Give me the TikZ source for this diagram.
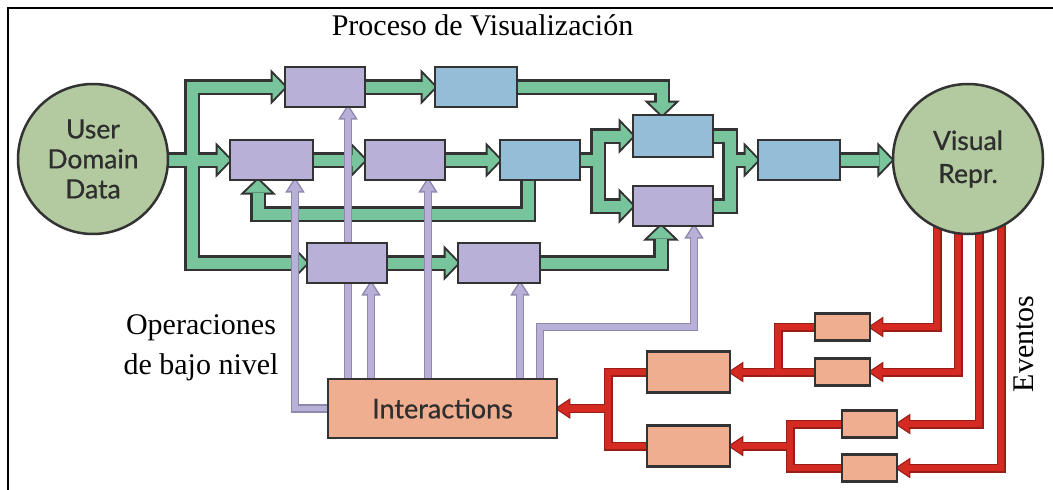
\documentclass[tikz,border=0pt]{standalone}
\usepackage{fontspec}
\setmainfont{Liberation Serif}
\newfontfamily\lbl[FakeBold=0.6]{Lato}
\usetikzlibrary{calc}
\pgfdeclarelayer{pipes}
\pgfsetlayers{pipes,main}

\definecolor{dk}{HTML}{333333}
\definecolor{gr}{HTML}{78C49C}
\definecolor{pu}{HTML}{B8B0D6}
\definecolor{pdk}{HTML}{8E88AE}
\definecolor{bl}{HTML}{94BDD7}
\definecolor{sg}{HTML}{B3C9A0}
\definecolor{sa}{HTML}{F0AE90}
\definecolor{rd}{HTML}{D42A22}
\definecolor{rdk}{HTML}{9A1E18}
\definecolor{txt}{HTML}{2E2E2E}

% arrowheads: #1 style, #2 apex, #3 length, #4 half width
\newcommand\hR[4]{\path[#1] (#2) -- ++(-#3,-#4) -- ++(0,2*#4) -- cycle;}
\newcommand\hL[4]{\path[#1] (#2) -- ++(#3,-#4) -- ++(0,2*#4) -- cycle;}
\newcommand\hU[4]{\path[#1] (#2) -- ++(-#4,#3) -- ++(2*#4,0) -- cycle;}
\newcommand\hD[4]{\path[#1] (#2) -- ++(-#4,-#3) -- ++(2*#4,0) -- cycle;}

% green data-flow pipes: #1 line style, #2 head style
\newcommand\greenpipes[2]{%
  \draw[#1] ($(b1.west)+(-12.5,0)$) -- (192,87) -- (192,263) -- ($(b5.west)+(-12.5,0)$);
  \draw[#1] (udd.center |- b2.west) -- ($(b2.west)+(-12.5,0)$);
  \draw[#1] (b1.east) -- ($(c1.west)+(-12.5,0)$);
  \draw[#1] (c1.east) -- (662,87) -- ($(c3.north)+(-11,-12.5)$);
  \draw[#1] (b2.east) -- ($(b3.west)+(-12.5,0)$);
  \draw[#1] (b3.east) -- ($(c2.west)+(-12.5,0)$);
  \draw[#1] (c2.east) -- (598,160);
  \draw[#1] ($(c3.west)+(-12.5,0)$) -- (598,136) -- (598,206) -- ($(b4.west)+(-12.5,0)$);
  \draw[#1] (c3.east) -- (730,136) -- (730,206) -- (b4.east);
  \draw[#1] (730,160) -- ($(c4.west)+(-12.5,0)$);
  \draw[#1] (c4.east) -- ($(vr.west |- c4.east)+(-12.5,0)$);
  \draw[#1] ($(c2.south)+(-12,0)$) -- (528,214) -- (258,214) -- ($(b2.south)+(-13.5,12.5)$);
  \draw[#1] (b5.east) -- ($(b6.west)+(-12.5,0)$);
  \draw[#1] (b6.east) -- (661,263) -- ($(b4.south)+(-12,12.5)$);
  \hR{#2}{b1.west}{12.5}{13}
  \hR{#2}{b5.west}{12.5}{13}
  \hR{#2}{b2.west}{12.5}{13}
  \hR{#2}{c1.west}{12.5}{13}
  \hD{#2}{$(c3.north)+(-11,0)$}{12.5}{13}
  \hR{#2}{b3.west}{12.5}{13}
  \hR{#2}{c2.west}{12.5}{13}
  \hR{#2}{c3.west}{12.5}{13}
  \hR{#2}{b4.west}{12.5}{13}
  \hR{#2}{c4.west}{12.5}{13}
  \hR{#2}{vr.west |- c4.east}{12.5}{13}
  \hU{#2}{$(b2.south)+(-13.5,0)$}{12.5}{13}
  \hR{#2}{b6.west}{12.5}{13}
  \hU{#2}{$(b4.south)+(-12,0)$}{12.5}{13}
}

% lavender control lines from the interaction box
\newcommand\purplepipes[2]{%
  \draw[#1] ($(inter.north west)+(20,0)$) -- ($(b1.south)+(23,11)$);
  \draw[#1] ($(inter.north west)+(43,0)$) -- ($(b5.south)+(24,11)$);
  \draw[#1] ($(inter.north west)+(100,0)$) -- ($(b3.south)+(23,11)$);
  \draw[#1] ($(inter.north west)+(192,0)$) -- ($(b6.south)+(21,11)$);
  \draw[#1] ($(inter.north west)+(212,0)$) -- ++(0,-52) -| ($(b4.south)+(21,11)$);
  \draw[#1] (inter.west) -| ($(b2.south)+(23.5,11)$);
  \hU{#2}{$(b1.south)+(23,0)$}{11}{7}
  \hU{#2}{$(b5.south)+(24,0)$}{11}{7}
  \hU{#2}{$(b3.south)+(23,0)$}{11}{7}
  \hU{#2}{$(b6.south)+(21,0)$}{11}{7}
  \hU{#2}{$(b4.south)+(21,0)$}{11}{7}
  \hU{#2}{$(b2.south)+(23.5,0)$}{11}{7}
}

% red event lines
\newcommand\redpipes[2]{%
  \draw[#1] ($(vr.center)+(-31,40)$) |- ($(r1.east)+(12,0)$);
  \draw[#1] ($(vr.center)+(-10,40)$) |- ($(r2.east)+(12,0)$);
  \draw[#1] ($(vr.center)+(11,40)$) |- ($(r3.east)+(12,0)$);
  \draw[#1] ($(vr.center)+(33,40)$) |- ($(r4.east)+(12,0)$);
  \draw[#1] (r1.west) -- (778,327) -- (778,372);
  \draw[#1] (r2.west) -- ($(m1.east)+(12,0)$);
  \draw[#1] (r3.west) -- (790,424) -- (790,468) -- (r4.west);
  \draw[#1] (790,446) -- ($(m2.east)+(12,0)$);
  \draw[#1] (m1.west) -- (608,372) -- (608,446) -- (m2.west);
  \draw[#1] (608,408.5) -- ($(inter.east)+(12,0)$);
  \hL{#2}{r1.east}{12}{8}
  \hL{#2}{r2.east}{12}{8}
  \hL{#2}{r3.east}{12}{8}
  \hL{#2}{r4.east}{12}{8}
  \hL{#2}{m1.east}{12}{8}
  \hL{#2}{m2.east}{12}{8}
  \hL{#2}{inter.east}{12}{8}
}

\begin{document}
\begin{tikzpicture}[x=1pt,y=-1pt,
  box/.style={draw=dk, line width=2.5, inner sep=0, outer sep=0,
    minimum width=80, minimum height=40},
  pbox/.style={box, fill=pu},
  bbox/.style={box, fill=bl},
  sbox/.style={box, fill=sa},
  ebox/.style={sbox, minimum width=55, minimum height=27},
  circ/.style={circle, draw=dk, line width=2.5, fill=sg, minimum size=150,
    inner sep=0, align=center, text=txt, font=\lbl\fontsize{26.5}{30}\selectfont},
  lab/.style={inner sep=0, font=\fontsize{30}{36}\selectfont},
  gout/.style={draw=dk, line width=16, line join=miter},
  gin/.style={draw=gr, line width=11, line join=miter},
  ghout/.style={fill=dk, draw=dk, line width=4, line join=miter},
  ghin/.style={fill=gr},
  pout/.style={draw=pdk, line width=8.5, line join=miter},
  pin/.style={draw=pu, line width=5.5, line join=miter},
  phout/.style={fill=pdk, draw=pdk, line width=3, line join=miter},
  phin/.style={fill=pu},
  rout/.style={draw=rdk, line width=9, line join=miter},
  rin/.style={draw=rd, line width=6.5, line join=miter},
  rhout/.style={fill=rdk, draw=rdk, line width=2.5, line join=miter},
  rhin/.style={fill=rd}]
\useasboundingbox (0,0) rectangle (1053,490);
\draw[line width=1.5] (8,490) -- (8,8) -- (1053,8);

% end points
\node[circ] (udd) at (93,159) {User\\Domain\\Data};
\node[circ, font=\lbl\fontsize{26.5}{33}\selectfont] (vr) at (968,159) {Visual\\Repr.};

% processing stages
\node[pbox] (b1) at (325,87) {};
\node[bbox, minimum width=82] (c1) at (476,87) {};
\node[pbox, minimum width=83] (b2) at (271.5,160) {};
\node[pbox] (b3) at (405,160) {};
\node[bbox] (c2) at (540,160) {};
\node[bbox, minimum height=42] (c3) at (673,136) {};
\node[pbox] (b4) at (673,206) {};
\node[bbox, minimum width=82] (c4) at (799,160) {};
\node[pbox] (b5) at (347,263) {};
\node[pbox, minimum width=82] (b6) at (499,263) {};

% interaction handling
\node[sbox, minimum width=229, minimum height=59, text=txt,
  font=\lbl\fontsize{27}{32}\selectfont] (inter) at (442.5,408.5) {Interactions};
\node[sbox, minimum width=83, minimum height=41] (m1) at (688.5,372) {};
\node[sbox, minimum width=83, minimum height=41] (m2) at (688.5,446) {};
\node[ebox] (r1) at (842.5,327) {};
\node[ebox] (r2) at (842.5,372) {};
\node[ebox] (r3) at (869.5,424) {};
\node[ebox] (r4) at (869.5,468) {};

% captions
\node[lab, anchor=base] (title) at (482.5,35) {Proceso de Visualización};
\node[lab, anchor=base] (op1) at (201,334) {Operaciones};
\node[lab, anchor=base] (op2) at (201,374) {de bajo nivel};
\node[lab, anchor=base, rotate=90] (ev) at (1033,344) {Eventos};

\begin{pgfonlayer}{pipes}
  \greenpipes{gout}{ghout}
  \greenpipes{gin}{ghin}
  \purplepipes{pout}{phout}
  \purplepipes{pin}{phin}
  \redpipes{rout}{rhout}
  \redpipes{rin}{rhin}
\end{pgfonlayer}
\end{tikzpicture}
\end{document}
